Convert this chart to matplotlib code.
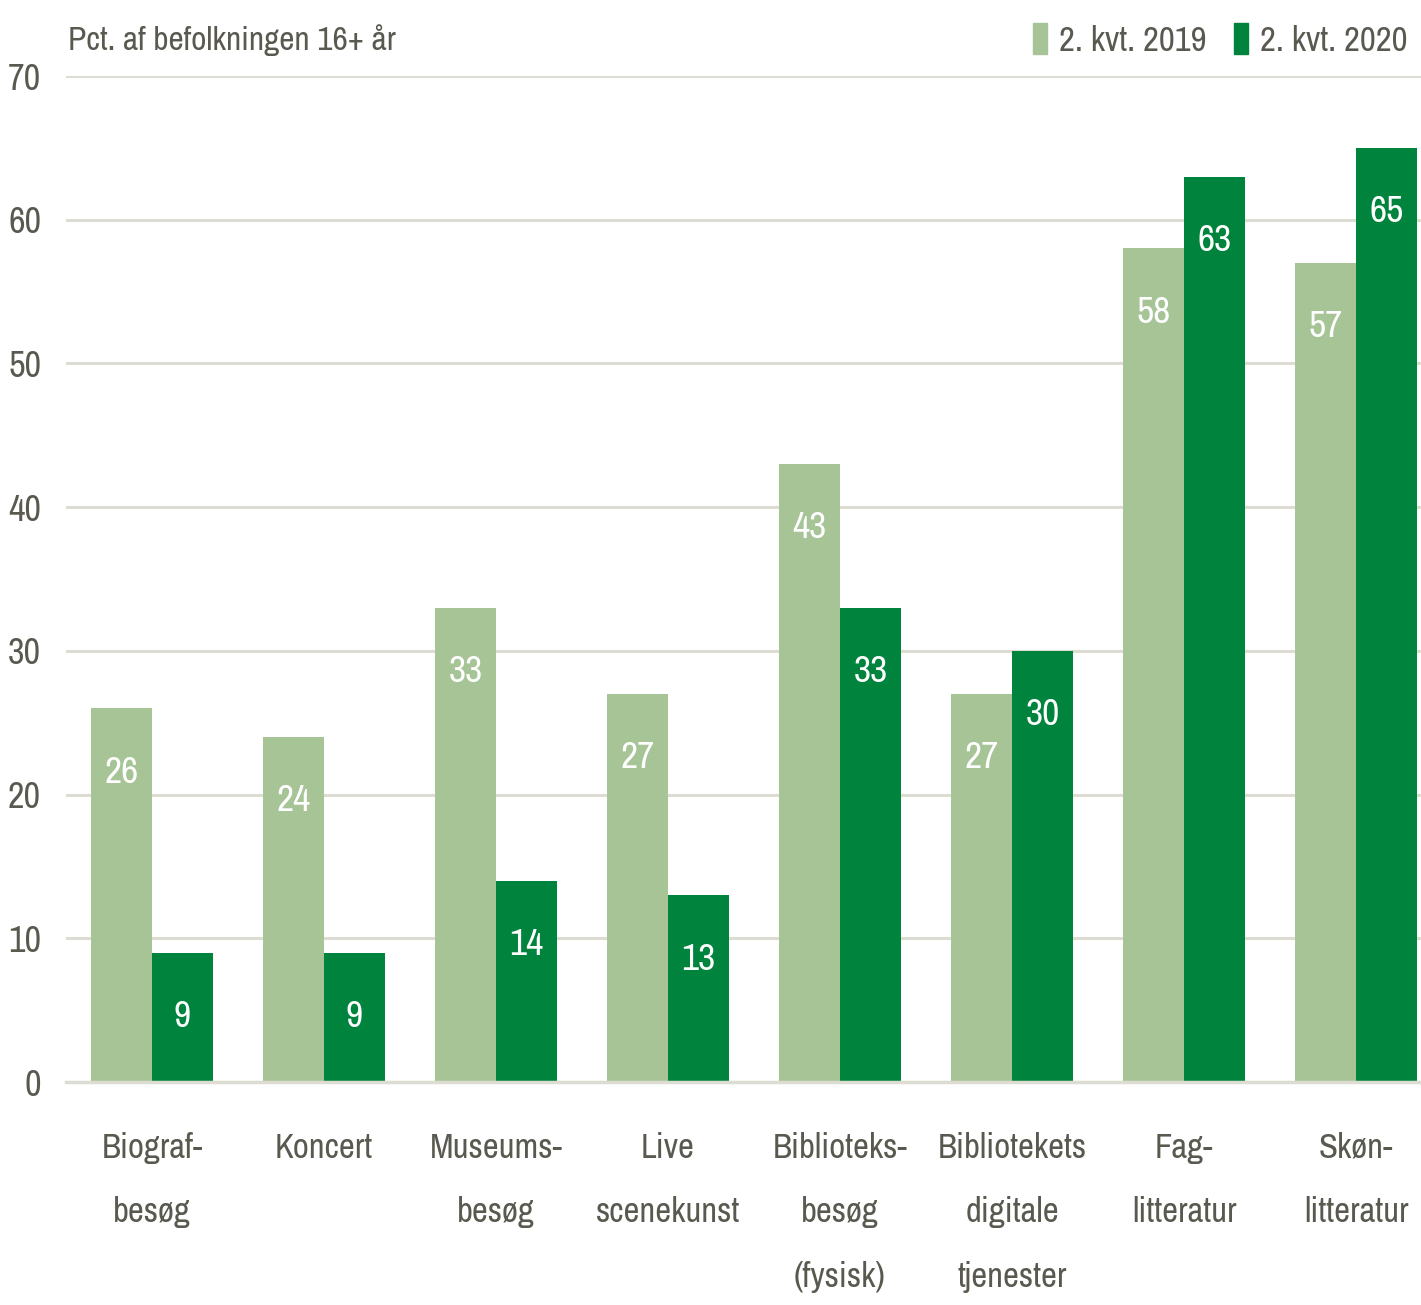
import matplotlib
matplotlib.use("Agg")
import matplotlib.pyplot as plt
from matplotlib.patches import Patch
from matplotlib import font_manager as fm
import numpy as np

categories = ["Biograf-\nbesøg", "Koncert", "Museums-\nbesøg", "Live\nscenekunst",
              "Biblioteks-\nbesøg\n(fysisk)", "Bibliotekets\ndigitale\ntjenester",
              "Fag-\nlitteratur", "Skøn-\nlitteratur"]
vals_2019 = [26, 24, 33, 27, 43, 27, 58, 57]
vals_2020 = [9, 9, 14, 13, 33, 30, 63, 65]
series_names = ["2. kvt. 2019", "2. kvt. 2020"]
yticks = [0, 10, 20, 30, 40, 50, 60, 70]

C_LIGHT = "#a6c496"
C_DARK = "#00843d"
TXT = "#595950"
GRID = "#dcdcd2"

available = {f.name for f in fm.fontManager.ttflist}
prefs = ['Archivo Narrow', 'Liberation Sans Narrow', 'PT Sans Narrow',
         'Roboto Condensed', 'DejaVu Sans']
family = [f for f in prefs if f in available] or ['DejaVu Sans']
plt.rcParams['font.family'] = family[:1] + ['DejaVu Sans']
FS = 25

fig = plt.figure(figsize=(14.21, 13.05), dpi=100)
ax = fig.add_axes([66/1421, 1-1082/1305, (1442-66)/1421, (1082-76)/1305])

x = np.arange(len(categories))
w = 0.355
b1 = ax.bar(x - w/2, vals_2019, w, color=C_LIGHT, zorder=3)
b2 = ax.bar(x + w/2, vals_2020, w, color=C_DARK, zorder=3)

for bars, vals in ((b1, vals_2019), (b2, vals_2020)):
    for r, v in zip(bars, vals):
        ax.annotate(str(v), (r.get_x() + r.get_width()/2, v), xytext=(0, -46),
                    textcoords="offset points", ha="center", va="center",
                    color="white", fontsize=FS + 2, zorder=4)

ax.set_xlim(-0.5, len(categories) - 0.5)
ax.set_ylim(0, 70)
ax.set_yticks(yticks)
ax.set_yticklabels([str(t) for t in yticks])
ax.set_xticks(x)
ax.set_xticklabels(categories, linespacing=2.25)
ax.tick_params(axis='both', length=0, labelsize=FS, labelcolor=TXT)
ax.tick_params(axis='x', pad=36)
ax.tick_params(axis='y', pad=18, labelsize=FS + 1)
ax.grid(axis='y', color=GRID, linewidth=2.2, zorder=0)
for s in ("top", "right", "left"):
    ax.spines[s].set_visible(False)
ax.spines["bottom"].set_color(GRID)
ax.spines["bottom"].set_linewidth(2.5)
ax.spines["bottom"].set_zorder(5)

fig.text(68/1421, 1-40/1305, "Pct. af befolkningen 16+ år", ha="left", va="center",
         fontsize=FS - 1, color=TXT)

handles = [Patch(color=C_LIGHT), Patch(color=C_DARK)]
fig.legend(handles, series_names, loc="center right", bbox_to_anchor=(1408/1421, 1-40/1305),
           ncol=2, frameon=False, fontsize=FS, labelcolor=TXT,
           handlelength=0.4, handleheight=1.0, handletextpad=0.35, columnspacing=0.8,
           borderaxespad=0, borderpad=0)

fig.savefig("out.png", dpi=100, facecolor="white")
